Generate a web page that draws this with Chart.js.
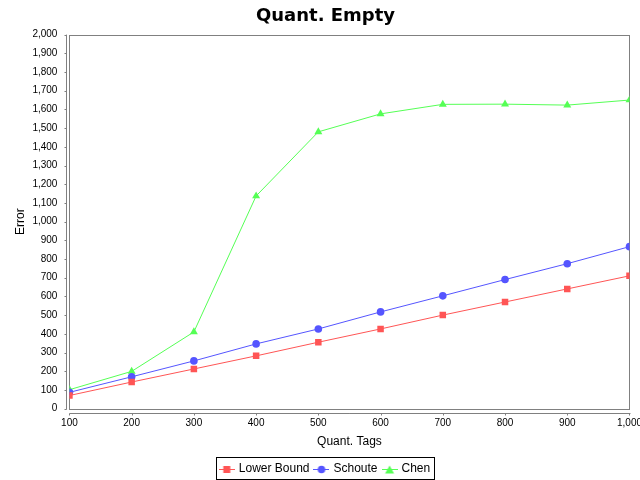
<!DOCTYPE html>
<html>
<head>
<meta charset="utf-8">
<script src="https://cdn.jsdelivr.net/npm/chart.js@4/dist/chart.umd.min.js"></script>
<style>
  html, body { margin: 0; padding: 0; background: #fff; }
  #wrap { width: 640px; height: 480px; overflow: hidden; }
</style>
</head>
<body>
<div id="wrap"><canvas id="chart" width="651" height="485"></canvas></div>
<script>
const tags = [100, 200, 300, 400, 500, 600, 700, 800, 900, 1000];
const lowerBound = [70, 142, 212, 282, 355, 426, 500, 570, 640, 710];
const schoute = [87, 170, 255, 346, 426, 517, 603, 690, 775, 866];
const chen = [101, 199, 410, 1137, 1480, 1576, 1627, 1628, 1623, 1650];

const RED = '#ff5555', BLUE = '#5555ff', GREEN = '#55ff55';
const fmt = v => v.toLocaleString('en-US');

function pts(ys) {
  return tags.map((t, i) => ({ x: t, y: ys[i] }));
}

// little legend glyph: a short line with the marker on it
function glyph(color, shape) {
  const c = document.createElement('canvas');
  c.width = 16; c.height = 10;
  const g = c.getContext('2d');
  g.strokeStyle = color; g.fillStyle = color; g.lineWidth = 1;
  g.beginPath(); g.moveTo(0, 5.5); g.lineTo(16, 5.5); g.stroke();
  g.beginPath();
  if (shape === 'rect') g.rect(4.5, 2, 7, 7);
  else if (shape === 'circle') g.arc(8, 5.5, 3.8, 0, Math.PI * 2);
  else { g.moveTo(8, 1.5); g.lineTo(12.5, 9.5); g.lineTo(3.5, 9.5); g.closePath(); }
  g.fill();
  return c;
}

const frame = {
  id: 'frame',
  beforeDatasetsDraw(chart) {
    const { ctx, chartArea: a, scales: { x, y } } = chart;
    ctx.save();
    ctx.strokeStyle = '#808080';
    ctx.lineWidth = 1;
    ctx.strokeRect(Math.round(a.left) + 0.5, Math.round(a.top) + 0.5,
      Math.round(a.right - a.left), Math.round(a.bottom - a.top));
    // offset axis lines with small tick marks
    const ax = Math.round(a.left) - 2.5;
    const ay = Math.round(a.bottom) + 4.5;
    ctx.beginPath();
    ctx.moveTo(ax, a.top); ctx.lineTo(ax, a.bottom + 1);
    y.ticks.forEach(t => {
      const py = Math.round(y.getPixelForValue(t.value)) + 0.5;
      ctx.moveTo(ax - 2, py); ctx.lineTo(ax, py);
    });
    ctx.moveTo(a.left, ay); ctx.lineTo(a.right + 1, ay);
    x.ticks.forEach(t => {
      const px = Math.round(x.getPixelForValue(t.value)) + 0.5;
      ctx.moveTo(px, ay); ctx.lineTo(px, ay + 2);
    });
    ctx.stroke();
    ctx.restore();
  },
  afterDraw(chart) {
    const boxes = chart.legend && chart.legend.legendHitBoxes;
    if (!boxes || !boxes.length) return;
    const first = boxes[0], last = boxes[boxes.length - 1];
    const ctx = chart.ctx;
    ctx.save();
    ctx.strokeStyle = '#000';
    ctx.lineWidth = 1;
    const l = Math.round(first.left) - 4.5;
    const r = Math.round(last.left + last.width) + 4.5;
    const t = Math.round(first.top) - 5.5;
    const b = Math.round(first.top + first.height) + 4.5;
    ctx.strokeRect(l, t, r - l, b - t);
    ctx.restore();
  }
};

const styles = [
  { label: 'Lower Bound', data: lowerBound, color: RED, shape: 'rect', r: 4.6 },
  { label: 'Schoute', data: schoute, color: BLUE, shape: 'circle', r: 3.8 },
  { label: 'Chen', data: chen, color: GREEN, shape: 'triangle', r: 4.6 }
];

new Chart(document.getElementById('chart'), {
  type: 'line',
  data: {
    datasets: styles.map(s => ({
      label: s.label,
      data: pts(s.data),
      borderColor: s.color,
      backgroundColor: s.color,
      borderWidth: 1,
      pointStyle: s.shape,
      pointRadius: s.r,
      pointBorderWidth: 0,
      pointBackgroundColor: s.color,
      tension: 0,
      glyph: glyph(s.color, s.shape)
    }))
  },
  options: {
    responsive: false,
    devicePixelRatio: 1,
    animation: false,
    layout: { padding: { left: 0, right: 0, top: 0, bottom: 0 } },
    plugins: {
      title: {
        display: true,
        text: 'Quant. Empty',
        color: '#000',
        font: { family: 'DejaVu Sans', size: 18, weight: 'bold' },
        padding: { top: 6, bottom: 7 }
      },
      legend: {
        position: 'bottom',
        labels: {
          color: '#333',
          font: { family: 'Liberation Sans', size: 12 },
          usePointStyle: true,
          pointStyleWidth: 12,
          padding: 6,
          generateLabels: chart => chart.data.datasets.map((d, i) => ({
            text: d.label,
            pointStyle: d.glyph,
            fillStyle: d.borderColor,
            strokeStyle: d.borderColor,
            lineWidth: 0,
            hidden: false,
            datasetIndex: i
          }))
        }
      },
      tooltip: { enabled: false }
    },
    scales: {
      x: {
        type: 'linear',
        min: 100,
        max: 1000,
        grid: { display: false, drawTicks: false },
        border: { display: false },
        ticks: {
          stepSize: 100,
          color: '#000',
          padding: 9,
          maxRotation: 0,
          font: { family: 'Liberation Sans', size: 10 },
          callback: v => fmt(v)
        },
        title: {
          display: true,
          text: 'Quant. Tags',
          color: '#000',
          font: { family: 'Liberation Sans', size: 12 },
          padding: { top: -4, bottom: 8 }
        }
      },
      y: {
        min: 0,
        max: 2000,
        grid: { display: false, drawTicks: false },
        border: { display: false },
        ticks: {
          stepSize: 100,
          color: '#000',
          padding: 12,
          font: { family: 'Liberation Sans', size: 10 },
          callback: v => fmt(v)
        },
        title: {
          display: true,
          text: 'Error',
          color: '#000',
          font: { family: 'Liberation Sans', size: 12 },
          padding: { top: 13, bottom: -7 }
        }
      }
    }
  },
  plugins: [frame]
});
</script>
</body>
</html>
